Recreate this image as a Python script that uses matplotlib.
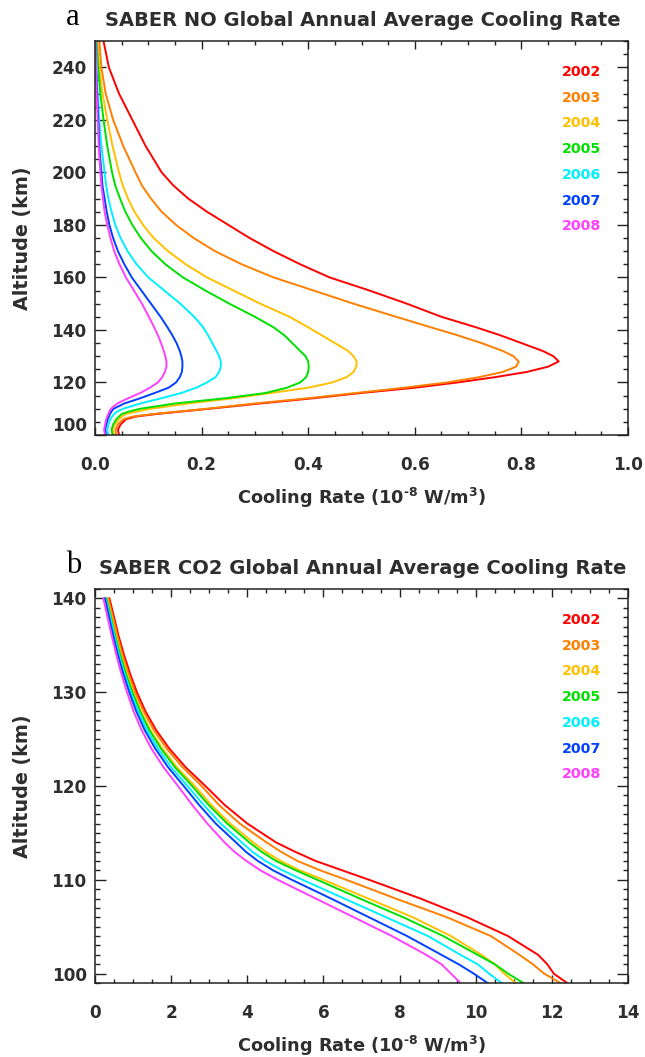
import matplotlib
matplotlib.use("Agg")
import matplotlib.pyplot as plt
from matplotlib.ticker import MultipleLocator, FormatStrFormatter

plt.rcParams['font.family'] = ['DejaVu Sans']
plt.rcParams['mathtext.fontset'] = 'custom'
plt.rcParams['mathtext.bf'] = 'DejaVu Sans:bold'
plt.rcParams['mathtext.rm'] = 'DejaVu Sans:bold'
plt.rcParams['mathtext.default'] = 'bf'

years = ['2002', '2003', '2004', '2005', '2006', '2007', '2008']
colors = ['#ff0000', '#ff7f00', '#ffc000', '#00e000', '#00f0ff', '#0040ff', '#ff40ff']

# NO cooling rate profiles (10^-8 W/m^3) vs altitude (km)
alt_no = [100, 102, 104, 106, 107, 108, 109, 110, 112, 114, 116, 118, 120, 122, 124, 126,
          128, 130, 132, 135, 138, 141, 145, 150, 155, 160, 165, 170, 175, 180, 185, 190,
          195, 200, 210, 220, 230, 240, 250]
no_2002 = [0.045, 0.043, 0.048, 0.058, 0.076, 0.115, 0.165, 0.215, 0.31, 0.41, 0.50, 0.60,
           0.68, 0.75, 0.81, 0.85, 0.87, 0.86, 0.84, 0.80, 0.76, 0.715, 0.65, 0.585, 0.515,
           0.44, 0.385, 0.335, 0.29, 0.25, 0.21, 0.175, 0.147, 0.125, 0.095, 0.07, 0.045,
           0.026, 0.016]
no_2003 = [0.040, 0.038, 0.043, 0.053, 0.07, 0.11, 0.16, 0.21, 0.30, 0.40, 0.49, 0.58,
           0.66, 0.72, 0.765, 0.79, 0.795, 0.785, 0.765, 0.725, 0.68, 0.63, 0.565, 0.485,
           0.41, 0.335, 0.275, 0.225, 0.185, 0.152, 0.125, 0.105, 0.088, 0.076, 0.053, 0.034,
           0.02, 0.012, 0.008]
no_2004 = [0.036, 0.033, 0.037, 0.045, 0.05, 0.058, 0.08, 0.105, 0.175, 0.26, 0.33, 0.40,
           0.445, 0.472, 0.485, 0.49, 0.491, 0.485, 0.475, 0.45, 0.425, 0.40, 0.365, 0.31,
           0.26, 0.21, 0.17, 0.137, 0.11, 0.09, 0.074, 0.062, 0.052, 0.045, 0.033, 0.023,
           0.014, 0.008, 0.005]
no_2005 = [0.033, 0.031, 0.034, 0.04, 0.045, 0.05, 0.065, 0.085, 0.15, 0.245, 0.32, 0.36,
           0.385, 0.396, 0.40, 0.401, 0.40, 0.395, 0.385, 0.37, 0.355, 0.335, 0.30, 0.252,
           0.207, 0.165, 0.132, 0.106, 0.086, 0.07, 0.057, 0.047, 0.038, 0.032, 0.023, 0.016,
           0.01, 0.006, 0.003]
no_2006 = [0.025, 0.023, 0.025, 0.029, 0.032, 0.036, 0.042, 0.053, 0.085, 0.125, 0.162, 0.19,
           0.21, 0.226, 0.233, 0.236, 0.236, 0.233, 0.228, 0.22, 0.212, 0.203, 0.186, 0.16,
           0.13, 0.10, 0.078, 0.061, 0.048, 0.038, 0.031, 0.025, 0.021, 0.018, 0.012, 0.008,
           0.005, 0.003, 0.002]
no_2007 = [0.021, 0.019, 0.021, 0.024, 0.026, 0.028, 0.031, 0.035, 0.055, 0.085, 0.112, 0.138,
           0.152, 0.159, 0.163, 0.164, 0.164, 0.162, 0.159, 0.153, 0.145, 0.136, 0.123, 0.105,
           0.087, 0.069, 0.055, 0.043, 0.034, 0.027, 0.022, 0.018, 0.014, 0.012, 0.008, 0.006,
           0.004, 0.002, 0.001]
no_2008 = [0.019, 0.017, 0.019, 0.021, 0.023, 0.025, 0.027, 0.03, 0.042, 0.062, 0.085, 0.103,
           0.118, 0.126, 0.131, 0.134, 0.134, 0.132, 0.129, 0.124, 0.118, 0.111, 0.101, 0.088,
           0.073, 0.058, 0.046, 0.036, 0.029, 0.023, 0.018, 0.015, 0.012, 0.01, 0.007, 0.005,
           0.003, 0.002, 0.001]

# CO2 cooling rate profiles (10^-8 W/m^3) vs altitude (km)
alt_co2 = [140, 138, 136, 134, 132, 130, 128, 126, 124, 122, 120, 118, 116, 114, 113, 112,
           111, 110, 108, 106, 104, 102, 101, 100, 99]
co2_2002 = [0.38, 0.50, 0.62, 0.76, 0.92, 1.10, 1.32, 1.60, 1.95, 2.38, 2.90, 3.40, 4.00,
            4.75, 5.25, 5.80, 6.50, 7.20, 8.55, 9.78, 10.85, 11.64, 11.88, 12.05, 12.40]
co2_2003 = [0.35, 0.47, 0.59, 0.72, 0.88, 1.05, 1.27, 1.54, 1.88, 2.30, 2.80, 3.25, 3.80,
            4.50, 4.88, 5.32, 5.92, 6.60, 7.90, 9.25, 10.40, 11.15, 11.50, 11.80, 12.22]
co2_2004 = [0.32, 0.44, 0.55, 0.68, 0.83, 1.00, 1.20, 1.45, 1.77, 2.15, 2.62, 3.05, 3.55,
            4.15, 4.48, 4.88, 5.38, 6.00, 7.18, 8.35, 9.35, 10.15, 10.50, 10.75, 11.05]
co2_2005 = [0.30, 0.42, 0.53, 0.66, 0.81, 0.98, 1.18, 1.42, 1.73, 2.10, 2.55, 2.98, 3.47,
            4.05, 4.37, 4.76, 5.28, 5.84, 6.96, 8.10, 9.15, 10.05, 10.50, 10.85, 11.25]
co2_2006 = [0.28, 0.40, 0.51, 0.63, 0.77, 0.94, 1.13, 1.36, 1.65, 2.00, 2.43, 2.85, 3.30,
            3.85, 4.13, 4.48, 4.93, 5.45, 6.55, 7.65, 8.75, 9.60, 10.05, 10.35, 10.68]
co2_2007 = [0.26, 0.37, 0.48, 0.60, 0.74, 0.90, 1.08, 1.30, 1.58, 1.92, 2.33, 2.73, 3.17,
            3.70, 3.96, 4.28, 4.68, 5.17, 6.20, 7.20, 8.20, 9.10, 9.55, 9.95, 10.31]
co2_2008 = [0.22, 0.33, 0.44, 0.56, 0.69, 0.84, 1.01, 1.22, 1.48, 1.80, 2.18, 2.55, 2.95,
            3.40, 3.66, 3.98, 4.35, 4.80, 5.80, 6.80, 7.80, 8.70, 9.10, 9.35, 9.60]

no_rates = [no_2002, no_2003, no_2004, no_2005, no_2006, no_2007, no_2008]
co2_rates = [co2_2002, co2_2003, co2_2004, co2_2005, co2_2006, co2_2007, co2_2008]

TEXT = '#2e2e2e'
W, H = 645, 1057
AX_W, AX_H = 533, 394


def px_box(x0, y0, x1, y1):
    return [x0 / W, 1 - y1 / H, (x1 - x0) / W, (y1 - y0) / H]


def style_axes(ax, xmajor, xminor, ymajor, yminor):
    ax.xaxis.set_major_locator(MultipleLocator(xmajor))
    ax.xaxis.set_minor_locator(MultipleLocator(xminor))
    ax.yaxis.set_major_locator(MultipleLocator(ymajor))
    ax.yaxis.set_minor_locator(MultipleLocator(yminor))
    ax.tick_params(axis='both', which='both', direction='in', top=True, right=True,
                   width=1.0, color='#222222')
    ax.tick_params(axis='x', which='major', length=5.8, pad=15)
    ax.tick_params(axis='x', which='minor', length=2.9)
    ax.tick_params(axis='y', which='major', length=7.6, pad=6)
    ax.tick_params(axis='y', which='minor', length=3.8)
    ax.tick_params(labelsize=12.2, labelcolor=TEXT)
    for lab in ax.get_xticklabels() + ax.get_yticklabels():
        lab.set_fontweight('bold')
    for sp in ax.spines.values():
        sp.set_linewidth(1.1)
        sp.set_color('#222222')
    ax.set_xlabel('Cooling Rate (10$^{\u2010 8}$ W/m$^{3}$)', fontsize=12.8,
                  fontweight='bold', color=TEXT)
    ax.xaxis.label.set_va('baseline')
    ax.xaxis.set_label_coords(0.5, -69 / AX_H)
    ax.set_ylabel('Altitude (km)', fontsize=13.8, fontweight='bold', color=TEXT)
    ax.yaxis.label.set_va('center')
    ax.yaxis.set_label_coords(-73 / AX_W, 0.5)


def add_years(ax):
    for i, (yr, c) in enumerate(zip(years, colors)):
        ax.text(1 - 26.5 / AX_W, 1 - (30.7 + i * 25.8) / AX_H, yr, transform=ax.transAxes,
                ha='right', va='center', color=c, fontsize=10.3, fontweight='bold')


fig = plt.figure(figsize=(W / 100, H / 100), dpi=100)

# panel a: NO
ax_a = fig.add_axes(px_box(95, 41, 628, 435))
for vals, c in zip(no_rates, colors):
    ax_a.plot(vals, alt_no, color=c, lw=1.4)
ax_a.set_xlim(0, 1.0)
ax_a.set_ylim(100, 250)
style_axes(ax_a, 0.2, 0.05, 20, 5)
ax_a.set_yticks(range(100, 241, 20))
ax_a.xaxis.set_major_formatter(FormatStrFormatter('%.1f'))
for lab in ax_a.get_yticklabels():
    lab.set_fontweight('bold')
add_years(ax_a)
# lowest altitude label sits on the bottom spine
ax_a.yaxis.get_major_ticks()[0].label1.set_verticalalignment('bottom')

# panel b: CO2
ax_b = fig.add_axes(px_box(95, 589, 628, 983))
for vals, c in zip(co2_rates, colors):
    ax_b.plot(vals, alt_co2, color=c, lw=1.4)
ax_b.set_xlim(0, 14)
ax_b.set_ylim(99, 141)
style_axes(ax_b, 2, 0.5, 10, 1)
add_years(ax_b)

fig.text(363 / W, 1 - 20 / H, 'SABER NO Global Annual Average Cooling Rate',
         ha='center', va='center', fontsize=14, fontweight='bold', color=TEXT)
fig.text(363 / W, 1 - 568 / H, 'SABER CO2 Global Annual Average Cooling Rate',
         ha='center', va='center', fontsize=14, fontweight='bold', color=TEXT)
fig.text(66 / W, 1 - 25 / H, 'a', ha='left', va='baseline', fontsize=22,
         family='Liberation Serif', color='black')
fig.text(66 / W, 1 - 573 / H, 'b', ha='left', va='baseline', fontsize=22,
         family='Liberation Serif', color='black')

fig.savefig('out.png', dpi=100)
